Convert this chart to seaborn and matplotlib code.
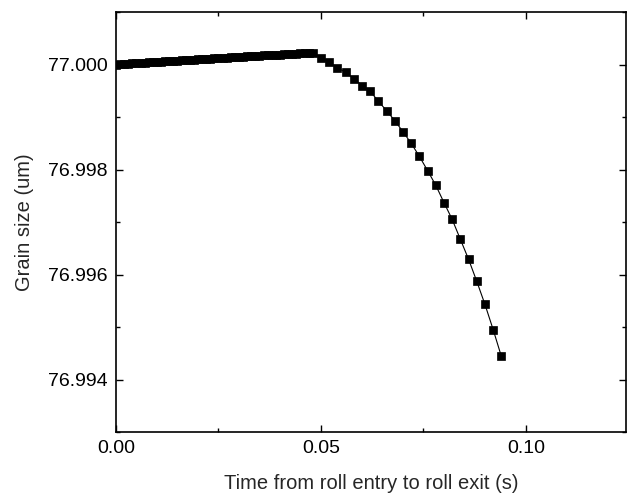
import matplotlib
matplotlib.use("Agg")
import matplotlib.pyplot as plt
from matplotlib.ticker import MultipleLocator, FormatStrFormatter
import seaborn as sns
import pandas as pd

# Time (s) for the slowly rising part (0.000 .. 0.048, step 0.001)
time_rise = [0.000, 0.001, 0.002, 0.003, 0.004, 0.005, 0.006, 0.007, 0.008, 0.009,
             0.010, 0.011, 0.012, 0.013, 0.014, 0.015, 0.016, 0.017, 0.018, 0.019,
             0.020, 0.021, 0.022, 0.023, 0.024, 0.025, 0.026, 0.027, 0.028, 0.029,
             0.030, 0.031, 0.032, 0.033, 0.034, 0.035, 0.036, 0.037, 0.038, 0.039,
             0.040, 0.041, 0.042, 0.043, 0.044, 0.045, 0.046, 0.047, 0.048]
grain_rise = [77.000000, 77.000005, 77.000010, 77.000015, 77.000020, 77.000025, 77.000030,
              77.000034, 77.000039, 77.000044, 77.000049, 77.000054, 77.000058, 77.000063,
              77.000068, 77.000073, 77.000078, 77.000082, 77.000087, 77.000092, 77.000097,
              77.000101, 77.000106, 77.000111, 77.000116, 77.000120, 77.000125, 77.000130,
              77.000134, 77.000139, 77.000144, 77.000148, 77.000153, 77.000158, 77.000162,
              77.000167, 77.000172, 77.000176, 77.000181, 77.000186, 77.000190, 77.000195,
              77.000200, 77.000204, 77.000209, 77.000213, 77.000218, 77.000222, 77.000227]

# Time (s) for the decreasing part
time_fall = [0.050, 0.052, 0.054, 0.056, 0.058, 0.060, 0.062, 0.064, 0.066, 0.068,
             0.070, 0.072, 0.074, 0.076, 0.078, 0.080, 0.082, 0.084, 0.086, 0.088,
             0.090, 0.092, 0.094]
grain_fall = [77.00013, 77.00004, 76.99994, 76.99985, 76.99973, 76.99960, 76.99949,
              76.99930, 76.99912, 76.99893, 76.99872, 76.99850, 76.99825, 76.99798,
              76.99770, 76.99737, 76.99705, 76.99667, 76.99629, 76.99587, 76.99543,
              76.99495, 76.99444]

x_ticks = [0.00, 0.05, 0.10]
y_ticks = [76.994, 76.996, 76.998, 77.000]

df = pd.DataFrame({"t": time_rise + time_fall, "g": grain_rise + grain_fall})

sns.set_style("ticks")
plt.rcParams["font.family"] = ["Liberation Sans", "DejaVu Sans"]

fig = plt.figure(figsize=(6.27, 4.94), dpi=100)
ax = fig.add_axes([0.185, 0.1255, 0.8134, 0.8502])

sns.lineplot(data=df, x="t", y="g", ax=ax, color="black", linewidth=0.8,
             marker="s", markersize=6, markeredgecolor="black", markeredgewidth=0.5,
             sort=True, errorbar=None)

ax.set_xlim(0, 0.1244)
ax.set_ylim(76.993, 77.001)
ax.set_xticks(x_ticks)
ax.set_yticks(y_ticks)
ax.xaxis.set_major_formatter(FormatStrFormatter("%.2f"))
ax.yaxis.set_major_formatter(FormatStrFormatter("%.3f"))
ax.xaxis.set_minor_locator(MultipleLocator(0.025))
ax.yaxis.set_minor_locator(MultipleLocator(0.001))

ax.tick_params(which="both", direction="in", top=True, right=True, colors="black",
               labelsize=14, width=1)
ax.tick_params(which="major", length=5, pad=6)
ax.tick_params(which="minor", length=3)
for s in ax.spines.values():
    s.set_linewidth(1.2)
    s.set_color("black")

ax.set_xlabel("Time from roll entry to roll exit (s)", fontsize=14.5, labelpad=12)
ax.set_ylabel("Grain size (um)", fontsize=14.5, labelpad=10)

fig.savefig("out.png", dpi=100)
